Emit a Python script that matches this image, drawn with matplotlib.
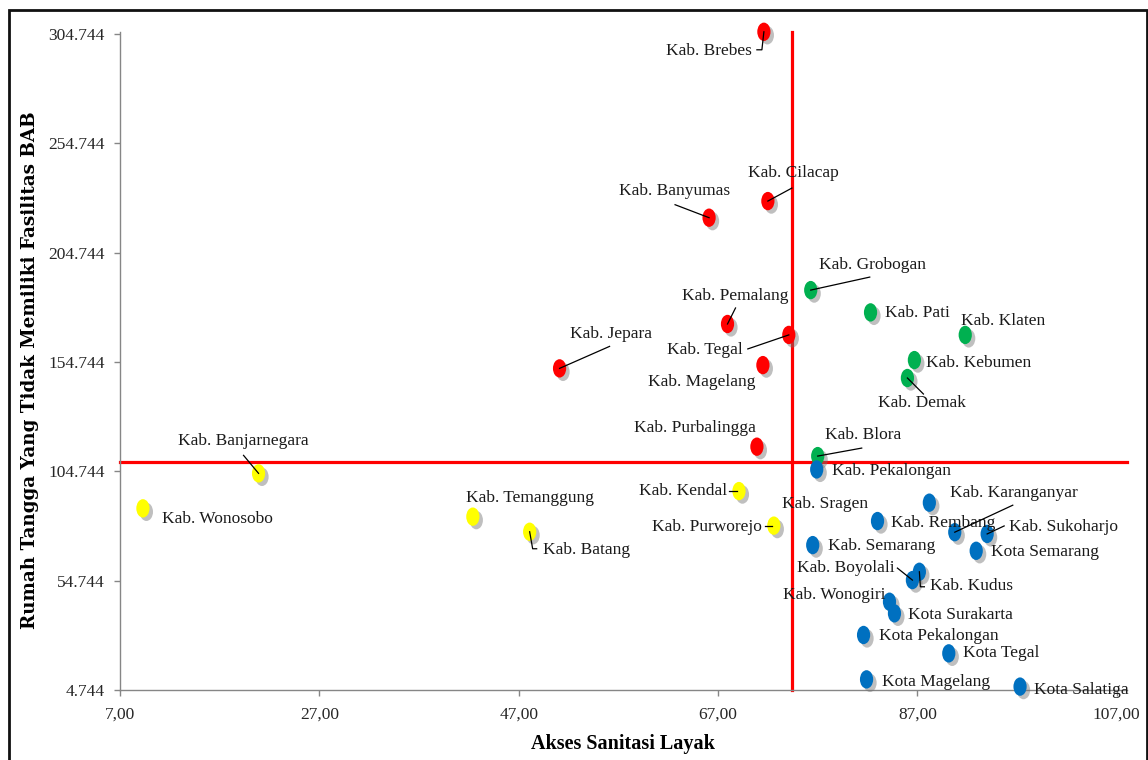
import numpy as np
import matplotlib
matplotlib.use('Agg')
import matplotlib.pyplot as plt
import matplotlib.patheffects as pe
from matplotlib.path import Path
from matplotlib.transforms import Affine2D
from matplotlib.patches import Rectangle

plt.rcParams['font.family'] = ['Liberation Serif', 'DejaVu Serif']

# data per kuadran (warna)
merah_nama = ['Kab. Brebes', 'Kab. Cilacap', 'Kab. Banyumas', 'Kab. Pemalang', 'Kab. Tegal',
              'Kab. Jepara', 'Kab. Magelang', 'Kab. Purbalingga']
merah_x = [71.6, 72.0, 66.1, 67.95, 74.1, 51.1, 71.5, 70.9]
merah_y = [305.7, 228.3, 220.7, 172.1, 167.1, 151.8, 153.3, 116.0]

kuning_nama = ['Kab. Banjarnegara', 'Kab. Wonosobo', 'Kab. Temanggung', 'Kab. Batang',
               'Kab. Kendal', 'Kab. Purworejo']
kuning_x = [20.9, 9.3, 42.4, 48.1, 69.1, 72.6]
kuning_y = [103.8, 87.8, 84.0, 77.1, 95.7, 79.9]

hijau_nama = ['Kab. Grobogan', 'Kab. Pati', 'Kab. Klaten', 'Kab. Kebumen', 'Kab. Demak', 'Kab. Blora']
hijau_x = [76.3, 82.3, 91.8, 86.7, 86.0, 77.0]
hijau_y = [187.6, 177.4, 167.1, 155.6, 147.4, 111.7]

biru_nama = ['Kab. Pekalongan', 'Kab. Sragen', 'Kab. Rembang', 'Kab. Karanganyar', 'Kab. Sukoharjo',
             'Kota Semarang', 'Kab. Semarang', 'Kab. Kudus', 'Kab. Boyolali', 'Kab. Wonogiri',
             'Kota Surakarta', 'Kota Pekalongan', 'Kota Tegal', 'Kota Magelang', 'Kota Salatiga']
biru_x = [76.9, 88.2, 83.0, 90.75, 94.0, 92.9, 76.5, 87.2, 86.5, 84.2, 84.7, 81.6, 90.15, 81.9, 97.3]
biru_y = [105.6, 90.4, 82.0, 76.9, 76.1, 68.4, 71.0, 58.8, 55.0, 45.1, 39.8, 29.9, 21.5, 9.6, 6.3]

# garis batas kuadran
batas_x = 74.4
batas_y = 109.0

yticks = [4.744, 54.744, 104.744, 154.744, 204.744, 254.744, 304.744]
xticks = [7, 27, 47, 67, 87, 107]

# posisi label (pixel, sumbu y ke bawah), ha
posisi_label = {
    'Kab. Brebes': (-12, 19, 'right'),
    'Kab. Cilacap': (-20, -28, 'left'),
    'Kab. Banyumas': (-35, -27, 'center'),
    'Kab. Pemalang': (8, -28, 'center'),
    'Kab. Tegal': (-46, 15, 'right'),
    'Kab. Jepara': (51, -34, 'center'),
    'Kab. Magelang': (-7, 17, 'right'),
    'Kab. Purbalingga': (-62, -19, 'center'),
    'Kab. Banjarnegara': (-15, -32, 'center'),
    'Kab. Wonosobo': (19, 11, 'left'),
    'Kab. Temanggung': (-7, -19, 'left'),
    'Kab. Batang': (13, 18, 'left'),
    'Kab. Kendal': (-12, 0, 'right'),
    'Kab. Purworejo': (-12, 1, 'right'),
    'Kab. Grobogan': (8, -25, 'left'),
    'Kab. Pati': (14, 1, 'left'),
    'Kab. Klaten': (-4, -14, 'left'),
    'Kab. Kebumen': (12, 3, 'left'),
    'Kab. Demak': (15, 25, 'center'),
    'Kab. Blora': (7, -21, 'left'),
    'Kab. Pekalongan': (15, 2, 'left'),
    'Kab. Sragen': (-147, 1, 'left'),
    'Kab. Rembang': (13, 2, 'left'),
    'Kab. Karanganyar': (-5, -39, 'left'),
    'Kab. Sukoharjo': (22, -7, 'left'),
    'Kota Semarang': (15, 1, 'left'),
    'Kab. Semarang': (15, 1, 'left'),
    'Kab. Kudus': (11, 14, 'left'),
    'Kab. Boyolali': (-18, -12, 'right'),
    'Kab. Wonogiri': (-4, -7, 'right'),
    'Kota Surakarta': (14, 2, 'left'),
    'Kota Pekalongan': (15, 1, 'left'),
    'Kota Tegal': (14, 0, 'left'),
    'Kota Magelang': (15, 3, 'left'),
    'Kota Salatiga': (14, 3, 'left'),
}

# garis penunjuk: titik-titik (pixel relatif terhadap titik data, y ke bawah), berakhir di pusat titik
penunjuk = {
    'Kab. Brebes': [(-7, 18), (-2, 18), (0, 0)],
    'Kab. Cilacap': [(24, -13), (0, 0)],
    'Kab. Banyumas': [(-34, -13), (0, 0)],
    'Kab. Pemalang': [(8, -16), (0, 0)],
    'Kab. Tegal': [(-41, 14), (0, 0)],
    'Kab. Jepara': [(50, -22), (0, 0)],
    'Kab. Banjarnegara': [(-15, -18), (0, 0)],
    'Kab. Batang': [(7, 17), (3, 17), (0, 0)],
    'Kab. Kendal': [(-10, 0), (-2, 0)],
    'Kab. Purworejo': [(-9, 0), (-2, 0)],
    'Kab. Grobogan': [(59, -13), (0, 0)],
    'Kab. Demak': [(16, 16), (0, 0)],
    'Kab. Blora': [(44, -8), (0, 0)],
    'Kab. Karanganyar': [(58, -27), (0, 0)],
    'Kab. Sukoharjo': [(17, -8), (0, 0)],
    'Kab. Boyolali': [(-15, -12), (0, 0)],
    'Kab. Kudus': [(5, 15), (1, 15), (0, 0)],
}

fig = plt.figure(figsize=(11.48, 7.6), dpi=100)
ax = fig.add_axes([120 / 1148, 70 / 760, 1006.7 / 1148, 658.2 / 760])
ax.set_xlim(7, 108)
ax.set_ylim(4.744, 305.7)

# penanda elips dengan bayangan
elips = Path.unit_circle().transformed(Affine2D().scale(0.72, 1.0))
bayangan = [pe.SimplePatchShadow(offset=(2.5, -2.5), shadow_rgbFace='0.45', alpha=0.45), pe.Normal()]

kelompok = [
    (merah_nama, merah_x, merah_y, '#FF0000'),
    (kuning_nama, kuning_x, kuning_y, '#FFFF00'),
    (hijau_nama, hijau_x, hijau_y, '#00B050'),
    (biru_nama, biru_x, biru_y, '#0070C0'),
]

ax.plot([7, 108], [batas_y, batas_y], color='#FF0000', lw=2.3, zorder=2, clip_on=False)
ax.plot([batas_x, batas_x], [4.744, 305.7], color='#FF0000', lw=2.3, zorder=2, clip_on=False)

for nama, xs, ys, warna in kelompok:
    sc = ax.scatter(xs, ys, s=175, marker=elips, color=warna, edgecolors='none', zorder=3, clip_on=False)
    sc.set_path_effects(bayangan)
    for n, xv, yv in zip(nama, xs, ys):
        dx, dy, ha = posisi_label[n]
        ax.annotate(n, xy=(xv, yv), xytext=(dx, -dy), textcoords='offset pixels',
                    ha=ha, va='center', fontsize=12.5, color='#1a1a1a',
                    zorder=4, annotation_clip=False)
        if n in penunjuk:
            px, py = ax.transData.transform((xv, yv))
            pts = [(px + ox, py - oy) for ox, oy in penunjuk[n]]
            data = ax.transData.inverted().transform(pts)
            ax.plot(data[:, 0], data[:, 1], color='black', lw=0.9, zorder=4, clip_on=False)

ax.set_xticks(xticks)
ax.set_xticklabels([f'{v:.2f}'.replace('.', ',') for v in xticks])
ax.set_yticks(yticks)
ax.set_yticklabels([f'{v:.3f}' for v in yticks])
ax.tick_params(axis='both', labelsize=12.5, colors='#868686', labelcolor='#262626',
               length=4, width=1, direction='out')
ax.tick_params(axis='y', pad=7)
ax.tick_params(axis='x', pad=8)
for s in ['top', 'right']:
    ax.spines[s].set_visible(False)
for s in ['left', 'bottom']:
    ax.spines[s].set_color('#868686')
    ax.spines[s].set_linewidth(1)

ax.set_xlabel('Akses Sanitasi Layak', fontsize=14.5, fontweight='bold', labelpad=8)
ax.set_ylabel('Rumah Tangga Yang Tidak Memiliki Fasilitas BAB', fontsize=13.2, fontweight='bold',
              family=['DejaVu Serif'])
ax.yaxis.set_label_coords(-81 / 1006.7, (690 - 370) / 658.2)

# bingkai luar grafik
fig.patches.append(Rectangle((9 / 1148, -0.05), 1138 / 1148, 1.037, transform=fig.transFigure,
                             fill=False, edgecolor='#111111', lw=2, zorder=10))

plt.savefig('out.png', dpi=100)
plt.close()
